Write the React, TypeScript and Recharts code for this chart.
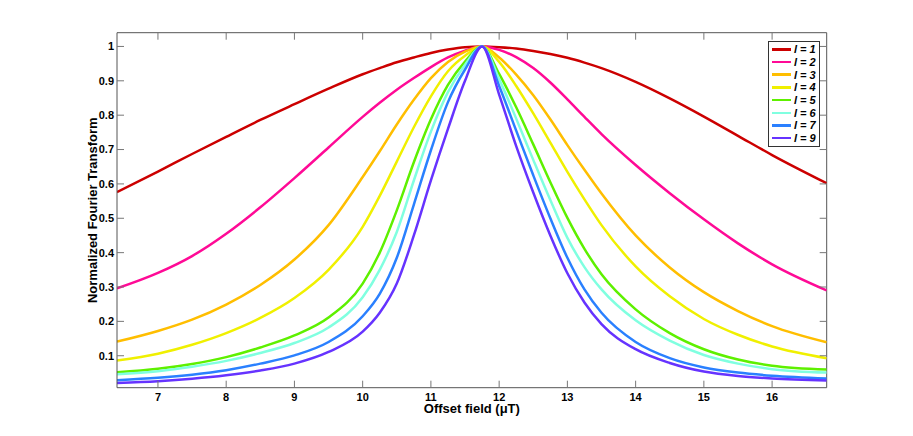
import { LineChart, Line, XAxis, YAxis, Legend, ReferenceLine } from 'recharts';

// offset field (uT) sample positions
const fields = [6.4, 7, 7.5, 8, 8.5, 9, 9.5, 10, 10.25, 10.5, 10.75, 11, 11.25, 11.5, 11.75, 12, 12.25, 12.5, 12.75, 13, 13.25, 13.5, 14, 14.5, 15, 15.5, 16, 16.8];

const l1 = [0.576, 0.636, 0.687, 0.737, 0.786, 0.832, 0.877, 0.919, 0.937, 0.954, 0.968, 0.981, 0.991, 0.998, 1.0, 0.998, 0.994, 0.987, 0.978, 0.967, 0.953, 0.937, 0.897, 0.849, 0.796, 0.74, 0.684, 0.602];
const l2 = [0.296, 0.341, 0.39, 0.455, 0.532, 0.617, 0.706, 0.795, 0.836, 0.874, 0.908, 0.94, 0.968, 0.988, 1.0, 0.99, 0.969, 0.937, 0.895, 0.846, 0.795, 0.745, 0.655, 0.573, 0.497, 0.427, 0.366, 0.29];
const l3 = [0.141, 0.172, 0.205, 0.249, 0.306, 0.38, 0.48, 0.62, 0.695, 0.773, 0.845, 0.908, 0.955, 0.985, 1.0, 0.968, 0.918, 0.858, 0.788, 0.713, 0.641, 0.572, 0.45, 0.357, 0.285, 0.23, 0.186, 0.139];
const l4 = [0.086, 0.106, 0.132, 0.166, 0.21, 0.268, 0.35, 0.475, 0.565, 0.665, 0.765, 0.855, 0.928, 0.973, 1.0, 0.955, 0.885, 0.805, 0.72, 0.635, 0.555, 0.48, 0.36, 0.273, 0.207, 0.161, 0.127, 0.093];
const l5 = [0.052, 0.062, 0.076, 0.096, 0.124, 0.159, 0.211, 0.31, 0.4, 0.523, 0.663, 0.788, 0.888, 0.956, 1.0, 0.92, 0.823, 0.715, 0.605, 0.501, 0.411, 0.337, 0.235, 0.166, 0.119, 0.089, 0.071, 0.06];
const l6 = [0.046, 0.055, 0.068, 0.085, 0.108, 0.137, 0.182, 0.27, 0.35, 0.46, 0.61, 0.752, 0.867, 0.947, 1.0, 0.905, 0.79, 0.67, 0.553, 0.443, 0.358, 0.293, 0.203, 0.144, 0.102, 0.077, 0.061, 0.051];
const l7 = [0.029, 0.036, 0.045, 0.058, 0.077, 0.101, 0.14, 0.215, 0.28, 0.385, 0.54, 0.698, 0.838, 0.933, 1.0, 0.885, 0.755, 0.625, 0.5, 0.385, 0.293, 0.225, 0.14, 0.093, 0.066, 0.051, 0.042, 0.034];
const l9 = [0.021, 0.026, 0.033, 0.043, 0.057, 0.077, 0.111, 0.17, 0.225, 0.31, 0.45, 0.61, 0.76, 0.9, 1.0, 0.86, 0.71, 0.575, 0.45, 0.34, 0.255, 0.192, 0.119, 0.079, 0.054, 0.041, 0.034, 0.028];

const seriesNames = ['l = 1', 'l = 2', 'l = 3', 'l = 4', 'l = 5', 'l = 6', 'l = 7', 'l = 9'];
const seriesValues = [l1, l2, l3, l4, l5, l6, l7, l9];
const colors = ['#cc0000', '#ff0a96', '#ffbe00', '#f0f000', '#5ef000', '#80ffe0', '#2a80ff', '#6633ff'];

const xTicks = [7, 8, 9, 10, 11, 12, 13, 14, 15, 16];
const yTicks = [0.1, 0.2, 0.3, 0.4, 0.5, 0.6, 0.7, 0.8, 0.9, 1];
const xDomain = [6.4, 16.8];
const yDomain = [0.007, 1.04];

const data = fields.map((x, i) => {
  const row: Record<string, number> = { x };
  seriesValues.forEach((vals, s) => {
    row['s' + s] = vals[i];
  });
  return row;
});

const W = 905;
const H = 428;
const margin = { top: 24.7, right: 86.3, left: 69, bottom: 18.3 };
const yAxisW = 40;
const xAxisH = 30;
const plotLeft = margin.left + yAxisW;
const plotRight = W - margin.right;
const plotTop = margin.top;
const plotBottom = H - margin.bottom - xAxisH;
const tickLen = 7;

const font = '"Liberation Sans", Arial, Helvetica, sans-serif';
const frame = '#555';
const tickColor = '#777';
const labelStyle = { fill: '#000', fontSize: 11, fontWeight: 'bold' as const, fontFamily: font };

// MATLAB-style: labels outside, tick marks pointing into the box on both sides
function XTick(props: any) {
  const { x, y, payload } = props;
  return (
    <g>
      <line x1={x} x2={x} y1={plotBottom} y2={plotBottom - tickLen} stroke={tickColor} />
      <line x1={x} x2={x} y1={plotTop} y2={plotTop + tickLen} stroke={tickColor} />
      <text x={x} y={y} dy="0.71em" textAnchor="middle" style={labelStyle}>
        {payload.value}
      </text>
    </g>
  );
}

function YTick(props: any) {
  const { x, y, payload } = props;
  return (
    <g>
      <line x1={plotLeft} x2={plotLeft + tickLen} y1={y} y2={y} stroke={tickColor} />
      <line x1={plotRight} x2={plotRight - tickLen} y1={y} y2={y} stroke={tickColor} />
      <text x={x} y={y} dy="0.355em" textAnchor="end" style={labelStyle}>
        {payload.value}
      </text>
    </g>
  );
}

function LegendBox(props: any) {
  const items = props.payload || [];
  return (
    <div
      style={{
        border: '1px solid #333',
        background: '#fff',
        padding: '1px 3px 1px 3px',
        fontFamily: font,
        fontSize: 11,
        fontWeight: 'bold',
        fontStyle: 'italic',
        color: '#000',
      }}
    >
      {items.map((it: any) => (
        <div key={it.value} style={{ display: 'flex', alignItems: 'center', height: 12.7 }}>
          <span style={{ display: 'inline-block', width: 19, height: 2.5, background: it.color, marginRight: 3 }} />
          <span style={{ whiteSpace: 'nowrap' }}>{it.value}</span>
        </div>
      ))}
    </div>
  );
}

export default function App() {
  return (
    <LineChart width={W} height={H} data={data} margin={margin}>
      <XAxis
        dataKey="x"
        type="number"
        domain={xDomain}
        allowDataOverflow
        ticks={xTicks}
        height={xAxisH}
        tickLine={false}
        tickSize={0}
        tickMargin={5}
        axisLine={{ stroke: frame }}
        tick={XTick}
        label={{
          value: 'Offset field (\u03bcT)',
          position: 'insideBottom',
          offset: 5,
          style: { fill: '#000', fontSize: 13, fontWeight: 'bold', fontFamily: font },
        }}
      />
      <YAxis
        type="number"
        domain={yDomain}
        allowDataOverflow
        ticks={yTicks}
        width={yAxisW}
        tickLine={false}
        tickSize={0}
        tickMargin={3}
        axisLine={{ stroke: frame }}
        tick={YTick}
        label={{
          value: 'Normalized Fourier Transform',
          angle: -90,
          position: 'insideLeft',
          offset: 15.7,
          style: { fill: '#000', fontSize: 13, fontWeight: 'bold', fontFamily: font, textAnchor: 'middle' },
        }}
      />
      {/* box: top and right edges */}
      <ReferenceLine y={yDomain[1]} stroke={frame} ifOverflow="visible" />
      <ReferenceLine x={xDomain[1]} stroke={frame} ifOverflow="visible" />
      {seriesNames.map((name, s) => (
        <Line
          key={name}
          type="monotone"
          dataKey={'s' + s}
          name={name}
          stroke={colors[s]}
          strokeWidth={2.5}
          dot={false}
          activeDot={false}
          isAnimationActive={false}
        />
      ))}
      <Legend
        layout="vertical"
        align="center"
        verticalAlign="middle"
        content={LegendBox}
        wrapperStyle={{ left: 760, top: 33, width: 'auto' }}
      />
    </LineChart>
  );
}
